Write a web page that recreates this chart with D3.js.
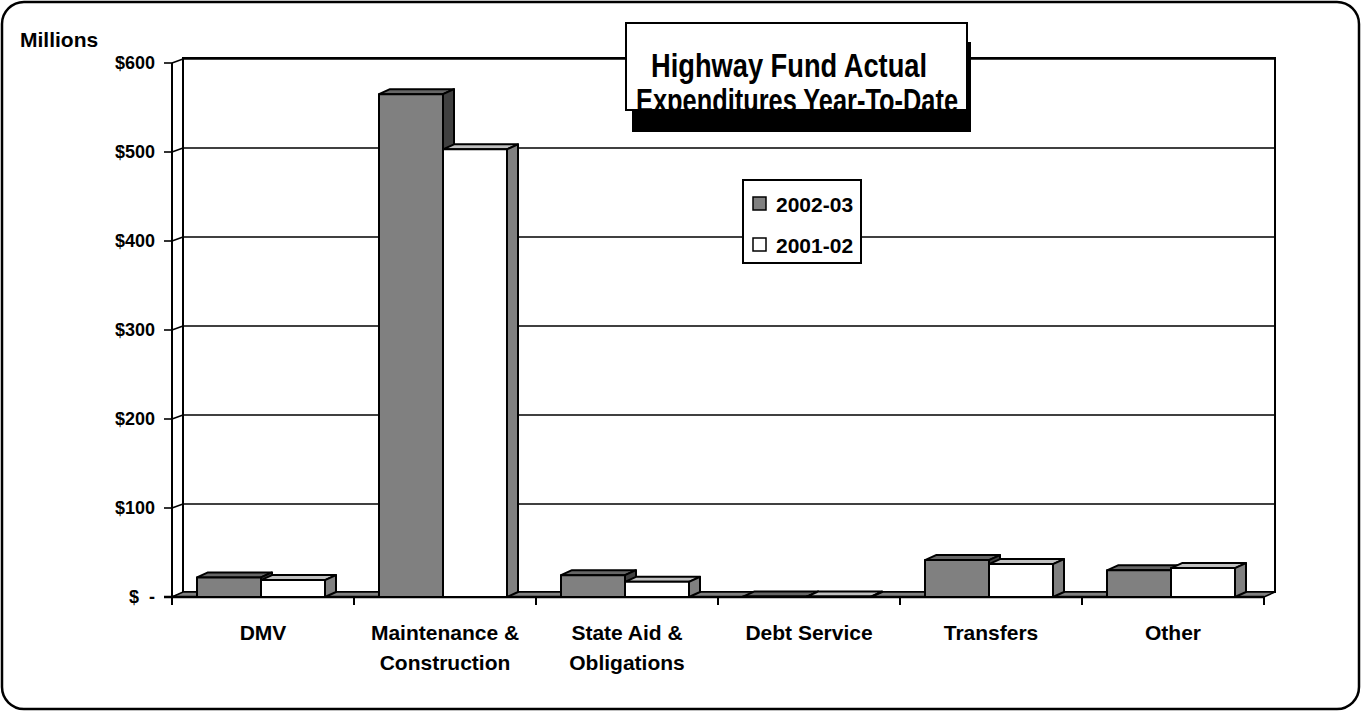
<!DOCTYPE html>
<html><head><meta charset="utf-8">
<script src="https://cdn.jsdelivr.net/npm/d3@7"></script>
<style>
html,body{margin:0;padding:0;background:#fff;}
text{font-family:"Liberation Sans",Arial,sans-serif;font-weight:bold;fill:#000;}
</style></head>
<body>
<svg id="c" width="1362" height="712"></svg>
<script>
// ---- data ----
const categories = [["DMV"], ["Maintenance &", "Construction"], ["State Aid &", "Obligations"], ["Debt Service"], ["Transfers"], ["Other"]];
const seriesNames = ["2002-03", "2001-02"];
const values2002 = [22, 565, 24.5, 0.5, 41.5, 30];
const values2001 = [19, 503, 17, 0.5, 37, 32.5];
const yTicks = [0, 100, 200, 300, 400, 500, 600];
const yTickLabels = ["$\u00a0\u00a0-", "$100", "$200", "$300", "$400", "$500", "$600"];
const titleLines = ["Highway Fund Actual", "Expenditures Year-To-Date"];
const yUnit = "Millions";

// ---- styles ----
const seriesStyle = [
  {front: "#808080", top: "#666666", side: "#404040"},
  {front: "#ffffff", top: "#c0c0c0", side: "#808080"}
];
const DX = 11, DY = -5;

const svg = d3.select("#c");

// outer rounded border
svg.append("rect").attr("x", 2).attr("y", 2).attr("width", 1357).attr("height", 707)
  .attr("rx", 22).attr("ry", 22).attr("fill", "#fff").attr("stroke", "#000").attr("stroke-width", 2.5);

const x = d3.scaleBand().domain(d3.range(categories.length)).range([172, 1264]).paddingInner(0).paddingOuter(0);
const xs = d3.scaleBand().domain(d3.range(seriesNames.length)).range([25, 153]);
const y = d3.scaleLinear().domain([0, 600]).range([597, 63]);

const x0 = x.range()[0], x1 = x.range()[1];

// back wall
svg.append("rect").attr("x", x0 + DX).attr("y", y(600) + DY).attr("width", x1 - x0)
  .attr("height", y(0) - y(600)).attr("fill", "#fff").attr("stroke", "#000").attr("stroke-width", 2);

// gridlines on back wall and side wall
const g = svg.append("g");
yTicks.forEach(t => {
  if (t > 0) {
    g.append("line").attr("x1", x0 + DX).attr("x2", x1 + DX).attr("y1", y(t) + DY + 1).attr("y2", y(t) + DY + 1)
      .attr("stroke", "#000").attr("stroke-width", 1.6);
  }
  g.append("line").attr("x1", x0).attr("x2", x0 + DX).attr("y1", y(t)).attr("y2", y(t) + DY + 1)
    .attr("stroke", "#000").attr("stroke-width", 1.6);
  g.append("line").attr("x1", x0 - 8).attr("x2", x0).attr("y1", y(t)).attr("y2", y(t))
    .attr("stroke", "#000").attr("stroke-width", 1.6);
});

// side wall front edge
svg.append("line").attr("x1", x0).attr("x2", x0).attr("y1", y(600)).attr("y2", y(0))
  .attr("stroke", "#000").attr("stroke-width", 2);

// floor
svg.append("path")
  .attr("d", `M${x0},${y(0)} L${x1},${y(0)} L${x1 + DX},${y(0) + DY} L${x0 + DX},${y(0) + DY} Z`)
  .attr("fill", "#808080").attr("stroke", "#000").attr("stroke-width", 1.5);
svg.append("line").attr("x1", x0 - 8).attr("x2", x1).attr("y1", y(0)).attr("y2", y(0))
  .attr("stroke", "#000").attr("stroke-width", 2.5);

// category ticks
d3.range(categories.length + 1).forEach(i => {
  const xx = i < categories.length ? x(i) : x1;
  svg.append("line").attr("x1", xx).attr("x2", xx).attr("y1", y(0)).attr("y2", y(0) + 8)
    .attr("stroke", "#000").attr("stroke-width", 2);
});

// bars
const bars = svg.append("g");
const allVals = [values2002, values2001];
categories.forEach((c, i) => {
  allVals.forEach((vals, s) => {
    const st = seriesStyle[s];
    const bx = x(i) + xs(s), bw = xs.bandwidth();
    const yt = y(vals[i]), yb = y(0);
    const gg = bars.append("g").attr("stroke", "#000").attr("stroke-width", 2).attr("stroke-linejoin", "round");
    gg.append("path").attr("d", `M${bx},${yt} L${bx + DX},${yt + DY} L${bx + bw + DX},${yt + DY} L${bx + bw},${yt} Z`)
      .attr("fill", st.top);
    gg.append("path").attr("d", `M${bx + bw},${yt} L${bx + bw + DX},${yt + DY} L${bx + bw + DX},${yb + DY} L${bx + bw},${yb} Z`)
      .attr("fill", st.side);
    gg.append("rect").attr("x", bx).attr("y", yt).attr("width", bw).attr("height", Math.max(0, yb - yt))
      .attr("fill", st.front);
  });
});

// y tick labels
yTicks.forEach((t, i) => {
  svg.append("text").attr("x", 155).attr("y", y(t)).attr("dy", "0.36em").attr("text-anchor", "end")
    .attr("font-size", 18).text(yTickLabels[i]);
});
svg.append("text").attr("x", 20).attr("y", 47).attr("font-size", 21).text(yUnit);

// category labels
categories.forEach((c, i) => {
  const t = svg.append("text").attr("text-anchor", "middle").attr("font-size", 21);
  c.forEach((line, k) => {
    t.append("tspan").attr("x", x(i) + x.bandwidth() / 2).attr("y", 640 + k * 30).text(line);
  });
});

// legend
const lg = svg.append("g");
lg.append("rect").attr("x", 743).attr("y", 180).attr("width", 118).attr("height", 83)
  .attr("fill", "#fff").attr("stroke", "#000").attr("stroke-width", 2);
seriesNames.forEach((n, s) => {
  const yy = 197 + s * 41;
  lg.append("rect").attr("x", 753).attr("y", yy).attr("width", 13).attr("height", 13)
    .attr("fill", seriesStyle[s].front).attr("stroke", "#000").attr("stroke-width", 1.5);
  lg.append("text").attr("x", 776).attr("y", yy + 14.5).attr("font-size", 21).text(n);
});

// title box
svg.append("rect").attr("x", 632).attr("y", 42).attr("width", 339).attr("height", 90).attr("fill", "#000");
svg.append("rect").attr("x", 626).attr("y", 23).attr("width", 341).attr("height", 87)
  .attr("fill", "#fff").attr("stroke", "#000").attr("stroke-width", 2);
const tt = svg.append("text").attr("text-anchor", "middle")
  .style("font-family", "'Liberation Sans Narrow','Arial Narrow',sans-serif").attr("font-size", 34);
tt.append("tspan").attr("x", 789).attr("y", 77).attr("textLength", 276).attr("lengthAdjust", "spacingAndGlyphs").text(titleLines[0]);
tt.append("tspan").attr("x", 797).attr("y", 112).attr("textLength", 322).attr("lengthAdjust", "spacingAndGlyphs").text(titleLines[1]);
</script>
</body></html>
